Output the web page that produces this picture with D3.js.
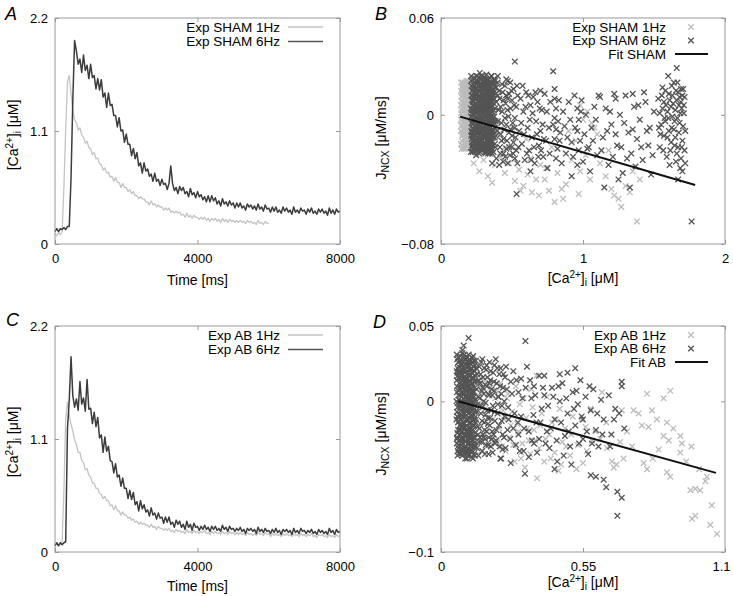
<!DOCTYPE html>
<html><head><meta charset="utf-8">
<script src="https://cdn.jsdelivr.net/npm/d3@7"></script>
<style>
body{margin:0;background:#fff;}
svg text{font-family:"Liberation Sans",Arial,Helvetica,sans-serif;}
</style></head>
<body><svg id="c" width="733" height="596"></svg>
<script>
// ---------------- DATA ----------------
// Ca2+ transients, one value every timeStepMs, in uM
const timeStepMs = 50;
const traceSham1Hz = [
0.10,0.08,0.11,0.09,0.12,0.55,1.12,1.58,1.64,1.46,
1.30,1.21,1.18,1.11,1.13,1.06,1.04,0.98,1.00,0.94,
0.93,0.87,0.89,0.83,0.84,0.78,0.77,0.72,0.74,0.69,
0.70,0.65,0.66,0.61,0.65,0.60,0.60,0.55,0.59,0.55,
0.55,0.51,0.53,0.49,0.51,0.47,0.47,0.44,0.46,0.44,
0.44,0.41,0.41,0.38,0.42,0.38,0.39,0.36,0.38,0.36,
0.36,0.33,0.35,0.33,0.35,0.31,0.32,0.30,0.32,0.30,
0.31,0.28,0.29,0.26,0.30,0.26,0.28,0.25,0.28,0.26,
0.26,0.24,0.26,0.24,0.26,0.23,0.25,0.22,0.25,0.23,
0.25,0.22,0.24,0.21,0.25,0.22,0.24,0.21,0.24,0.22,
0.23,0.21,0.23,0.21,0.23,0.21,0.22,0.20,0.23,0.21,
0.22,0.20,0.21,0.19,0.23,0.20,0.21,0.19,0.22,0.20,
0.20];
const traceSham6Hz = [
0.12,0.15,0.12,0.15,0.14,0.16,0.14,0.17,0.17,0.64,
1.40,1.98,1.88,1.75,1.80,1.67,1.84,1.69,1.74,1.61,
1.75,1.62,1.64,1.51,1.61,1.50,1.60,1.43,1.47,1.33,
1.47,1.35,1.36,1.25,1.25,1.14,1.23,1.10,1.11,0.99,
1.07,0.97,0.97,0.86,0.93,0.83,0.89,0.76,0.79,0.69,
0.79,0.71,0.73,0.66,0.68,0.61,0.69,0.61,0.63,0.57,
0.63,0.58,0.59,0.53,0.59,0.76,0.59,0.52,0.55,0.49,
0.56,0.52,0.55,0.49,0.51,0.46,0.54,0.48,0.50,0.45,
0.51,0.46,0.48,0.43,0.46,0.41,0.47,0.41,0.47,0.42,
0.45,0.39,0.42,0.37,0.44,0.39,0.41,0.37,0.42,0.38,
0.40,0.35,0.40,0.36,0.40,0.35,0.37,0.33,0.39,0.36,
0.38,0.34,0.37,0.33,0.39,0.34,0.36,0.32,0.38,0.34,
0.35,0.31,0.36,0.32,0.36,0.31,0.33,0.30,0.36,0.32,
0.35,0.31,0.33,0.29,0.36,0.31,0.33,0.30,0.35,0.32,
0.33,0.29,0.34,0.31,0.35,0.30,0.32,0.29,0.34,0.31,
0.34,0.30,0.32,0.28,0.35,0.30,0.33,0.29,0.34,0.31,
0.32];
const traceAB1Hz = [
0.07,0.09,0.07,0.09,0.10,0.60,1.30,1.46,1.33,1.24,
1.18,1.09,1.05,0.97,0.97,0.89,0.87,0.80,0.81,0.75,
0.73,0.67,0.67,0.62,0.62,0.57,0.56,0.52,0.54,0.50,
0.50,0.45,0.46,0.41,0.45,0.40,0.40,0.36,0.39,0.36,
0.36,0.33,0.34,0.31,0.32,0.29,0.30,0.27,0.29,0.27,
0.28,0.26,0.26,0.24,0.27,0.24,0.25,0.22,0.25,0.23,
0.23,0.21,0.23,0.21,0.23,0.20,0.21,0.19,0.22,0.20,
0.21,0.19,0.20,0.18,0.22,0.19,0.20,0.18,0.21,0.19,
0.20,0.18,0.20,0.19,0.21,0.18,0.19,0.17,0.20,0.18,
0.20,0.18,0.19,0.17,0.20,0.18,0.19,0.17,0.20,0.18,
0.19,0.17,0.19,0.17,0.19,0.17,0.18,0.16,0.19,0.17,
0.18,0.16,0.18,0.16,0.19,0.17,0.18,0.16,0.19,0.17,
0.18,0.15,0.18,0.16,0.18,0.16,0.17,0.15,0.18,0.16,
0.18,0.16,0.17,0.15,0.18,0.16,0.17,0.15,0.18,0.16,
0.17,0.15,0.17,0.16,0.18,0.15,0.16,0.14,0.17,0.16,
0.17,0.15,0.16,0.14,0.17,0.15,0.16,0.14,0.17,0.15,
0.16];
const traceAB6Hz = [
0.06,0.09,0.06,0.09,0.07,0.09,0.10,1.20,1.48,1.90,
1.52,1.41,1.49,1.38,1.66,1.44,1.50,1.37,1.68,1.39,
1.40,1.25,1.36,1.22,1.31,1.11,1.14,0.97,1.12,0.98,
1.03,0.89,0.88,0.77,0.86,0.73,0.75,0.64,0.72,0.62,
0.62,0.52,0.60,0.51,0.58,0.46,0.49,0.40,0.50,0.42,
0.46,0.39,0.41,0.35,0.43,0.36,0.38,0.32,0.38,0.33,
0.34,0.28,0.34,0.29,0.34,0.27,0.29,0.24,0.31,0.27,
0.30,0.24,0.27,0.22,0.30,0.24,0.27,0.21,0.28,0.24,
0.25,0.21,0.25,0.22,0.26,0.22,0.24,0.20,0.25,0.22,
0.25,0.21,0.23,0.20,0.26,0.22,0.24,0.20,0.25,0.22,
0.23,0.20,0.23,0.21,0.24,0.20,0.22,0.18,0.23,0.21,
0.23,0.20,0.22,0.18,0.24,0.20,0.22,0.19,0.23,0.20,
0.21,0.18,0.22,0.19,0.23,0.19,0.21,0.17,0.22,0.20,
0.22,0.19,0.21,0.17,0.23,0.19,0.21,0.18,0.23,0.20,
0.21,0.18,0.21,0.19,0.22,0.18,0.20,0.17,0.22,0.19,
0.21,0.18,0.20,0.17,0.23,0.19,0.21,0.17,0.22,0.19,
0.20];

// J_NCX vs [Ca2+]i scatter: [Ca (nM), J_NCX (nM/ms)]
const scatterSham1Hz = [
[140,15],[150,-4],[160,10],[170,-12],[180,6],[190,-18],[200,2],[150,18],[160,-15],[170,4],
[180,-8],[190,13],[200,-2],[140,-10],[150,8],[160,-1],[170,16],[180,-19],[190,1],[200,11],
[145,3],[155,-9],[165,14],[175,-6],[185,9],[195,-13],[205,5],[145,-16],[155,12],[165,-4],
[175,7],[185,-15],[195,17],[205,-7],[150,0],[160,19],[170,-17],[180,12],[190,-4],[200,-14],
[140,6],[150,-13],[160,4],[170,10],[180,-2],[190,7],[200,15],[210,-10],[210,4],[145,11],
[155,16],[165,-11],[175,1],[185,-11],[195,10],[205,-17],[140,-3],[170,20],[190,-9],[160,-7],
[160,-21],[180,21],[150,-19],[200,19],[143,-7],[148,14],[153,-12],[158,7],[163,-18],[168,-2],
[173,13],[178,-14],[183,3],[188,19],[193,-6],[198,9],[203,-20],[208,13],[142,20],[152,4],
[141,-18],[144,9],[147,-6],[149,17],[151,-11],[154,2],[156,-20],[159,13],[161,-5],[164,8],
[166,-14],[169,18],[171,-2],[174,-19],[176,11],[179,-9],[181,16],[184,-4],[186,-17],[189,5],
[191,21],[194,-10],[196,-1],[199,14],[201,-7],[204,20],[206,-12],[209,8],[142,1],[146,-21],
[152,20],[157,-2],[162,-9],[167,7],[172,-21],[177,17],[182,-13],[187,-1],[192,15],[197,-16],
[250,-24],[300,-28],[340,-22],[380,-31],[420,-26],[450,-36],[480,-30],[520,-41],[550,-34],[580,-44],
[610,-37],[640,-48],[670,-40],[700,-31],[730,-40],[760,-47],[800,-54],[820,-36],[850,-46],[880,-43],
[920,-28],[950,-16],[980,-35],[1020,-25],[1050,-40],[1080,-8],[1120,-30],[1160,-38],[1200,-46],[1220,-50],
[1250,-52],[1270,-57],[1300,-44],[1330,-48],[1380,-66],[1350,-35],[1100,-12],[900,-10],[780,-20],[600,-15],
[500,-8],[400,-12],[1400,-40],[860,-52],[630,-27],[330,-38],[720,-6],[1180,-22],[970,-49],[450,-20],
[1000,-3],[1030,2],[980,6],[1060,-5],[230,-30],[270,-35],[360,-42],[560,-47],[690,-50],[740,-33]];
const scatterSham6Hz = [
[213,21],[219,12],[211,4],[222,-6],[216,-15],[224,17],[212,-1],[220,-19],[226,8],[214,-10],
[233,18],[228,9],[237,-2],[231,-12],[226,-21],[236,23],[229,3],[238,-7],[232,14],[227,-16],
[248,24],[242,13],[251,1],[244,-9],[240,-18],[249,6],[243,-4],[252,19],[246,-13],[241,10],
[262,20],[257,8],[266,-3],[259,-14],[255,-22],[264,15],[258,2],[267,-8],[261,11],[256,-19],
[277,22],[271,11],[280,0],[274,-11],[270,-17],[279,5],[272,-6],[281,16],[276,-20],[273,26],
[292,19],[286,7],[295,-4],[289,-13],[284,-21],[294,14],[287,1],[296,-9],[291,24],[285,-16],
[307,23],[301,10],[310,-1],[303,-10],[299,-19],[309,16],[302,4],[311,-6],[305,-15],[300,12],
[322,21],[316,8],[325,-5],[318,-14],[314,-23],[324,13],[317,0],[326,-9],[320,25],[315,-18],
[337,18],[331,6],[340,-2],[333,-12],[329,-20],[339,11],[332,3],[341,-7],[335,22],[330,-16],
[352,20],[346,9],[355,-4],[348,-15],[344,-24],[354,14],[347,1],[356,-10],[350,17],[345,-19],
[367,16],[361,5],[370,-6],[363,-13],[359,-21],[369,12],[362,-1],[371,22],[365,-9],[360,-17],
[218,1],[235,-10],[250,16],[265,-11],[283,3],[298,-2],[313,18],[328,-3],[343,5],[358,-11],
[221,15],[239,20],[254,-16],[269,18],[288,-18],[304,20],[319,-12],[334,15],[349,-21],[364,9],
[225,-13],[247,3],[263,5],[278,-14],[293,10],[308,-21],[323,6],[338,-18],[353,4],[368,19],
[215,-5],[217,9],[223,-17],[230,6],[234,-4],[238,12],[245,-20],[247,21],[253,-7],[256,4],
[260,-2],[265,23],[268,-17],[273,-3],[275,8],[282,-9],[285,13],[290,-6],[293,-16],[297,7],
[300,21],[304,-13],[306,2],[312,-11],[315,14],[319,-6],[321,3],[327,-15],[329,19],[333,-9],
[336,8],[342,-14],[344,15],[348,-5],[351,11],[357,-16],[359,2],[362,20],[366,-4],[372,7],
[214,18],[223,-23],[228,-9],[232,0],[240,2],[244,16],[250,-11],[258,-20],[262,-6],[270,14],
[275,-23],[280,19],[287,-11],[291,5],[296,-21],[302,17],[308,9],[313,-4],[318,22],[323,-20],
[328,11],[332,-24],[338,0],[343,-22],[347,12],[352,-8],[357,24],[361,-24],[366,13],[370,-14],
[375,10],[378,-8],[380,17],[383,-20],[376,-1],[382,4],[385,-13],[379,22],[386,13],[384,-4],
[212,24],[210,-23],[214,-13],[217,3],[219,-20],[221,22],[225,0],[222,-8],[228,-19],[230,16],[232,-5],[234,11],
[236,-16],[238,2],[240,20],[242,-23],[244,7],[246,-2],[248,-25],[250,10],[252,-10],[254,13],[256,-3],[258,21],
[260,-17],[262,4],[264,-10],[266,9],[268,-24],[270,1],[272,19],[274,-15],[276,12],[278,-7],[280,24],[282,-19],
[284,10],[286,-2],[288,17],[290,-22],[292,-8],[294,4],[296,21],[298,-12],[300,-5],[302,23],[304,-17],[306,13],
[308,-9],[310,7],[312,-24],[314,19],[316,-2],[318,4],[320,-11],[322,16],[324,-21],[326,10],[328,-6],[330,22],
[332,-14],[334,1],[336,-23],[338,13],[340,6],[342,-10],[344,20],[346,-1],[348,-20],[350,8],[352,-13],[354,24],
[356,-6],[358,15],[360,-3],[362,-19],[364,2],[366,21],[368,-10],[370,-23],[372,14],[374,-5],[376,18],[378,-14],
[215,12],[218,-11],[223,6],[227,-3],[231,19],[235,14],[239,-13],[243,-20],[247,10],[251,-16],[255,24],[259,-6],
[263,-21],[267,3],[271,-4],[275,17],[279,-12],[283,-22],[287,6],[291,14],[295,-18],[299,1],[303,-14],[307,22],
[311,-19],[315,5],[319,11],[323,-5],[327,21],[331,-18],[335,-7],[339,17],[343,-3],[347,-16],[351,-23],[355,8],
[380,21],[390,8],[400,-4],[380,-18],[410,15],[420,-12],[400,24],[430,2],[440,-24],[390,-27],
[450,18],[460,-6],[470,10],[440,-15],[480,-20],[460,22],[490,4],[500,-13],[470,-30],[510,16],
[520,-2],[530,-22],[500,9],[540,12],[550,-10],[420,5],[370,3],[410,-31],[450,-2],[480,13],
[520,-27],[430,19],[360,-30],[490,-9],[530,5],[400,12],[440,9],[460,-21],[390,17],[510,-17],
[520,33],[532,-49],[470,21],
[395,-10],[405,3],[415,-20],[425,-5],[435,14],[445,-9],[455,7],[465,-16],[475,-1],[485,-25],
[495,15],[505,-5],[515,6],[525,-14],[535,18],[545,-20],[398,20],[418,-24],[438,-29],[458,12],
[478,-11],[498,-20],[518,-8],[538,-30],[412,10],[426,-16],[452,-26],[468,3],[488,20],[508,-24],
[560,10],[570,-18],[580,2],[590,-28],[600,14],[610,-8],[620,-22],[630,6],[640,-14],[650,11],
[660,-30],[670,-4],[680,8],[690,-19],[700,-10],[710,3],[720,-26],[730,13],[740,-16],[750,-33],
[790,27],[800,16],[800,10],[810,4],[800,-2],[810,-9],[800,-15],[820,-21],[810,-27],[790,-6],
[840,-11],[860,2],[880,-24],[900,8],[920,-17],[940,12],[960,4],[970,-3],[960,-10],[980,-16],
[970,-22],[990,9],[1000,-29],[1020,0],[1040,-20],[1060,-8],[1080,5],[1100,-25],[1120,11],[1140,-14],
[1160,4],[1180,-31],[1200,-6],[1220,13],[1240,-19],[1260,0],[1280,-36],[1300,12],[1320,-11],[1340,-24],
[1360,5],[1380,-15],[1400,-3],[1420,-28],[1440,8],[1460,-19],[1480,-37],[1500,2],[1470,-8],[1430,14],
[1110,12],[1250,-40],[1050,-35],[850,-30],[770,8],[700,15],[630,-35],[1330,-45],[1150,-45],[920,-38],
[565,-5],[575,18],[585,-12],[595,5],[605,-24],[615,12],[625,-3],[635,-28],[645,1],[655,-20],
[665,14],[675,-12],[685,-26],[695,4],[705,-22],[715,-6],[725,-15],[745,2],[760,-8],[765,-24],
[825,-4],[830,9],[835,-16],[870,-7],[890,-14],[910,-3],[930,-26],[945,-8],[985,2],[1010,-12],
[1030,-21],[1070,-16],[1090,-3],[1130,-22],[1170,-10],[1190,2],[1210,-26],[1230,-12],[1270,-20],[1290,-5],
[1310,-27],[1350,-9],[1370,-32],[1390,6],[1410,-20],[1450,-10],[1490,-25],[1230,10],[1350,13],[960,-31],
[1530,10],[1550,-6],[1540,-20],[1560,4],[1570,-13],[1580,15],[1590,-26],[1600,-2],[1610,9],[1620,-17],
[1630,12],[1640,-9],[1650,3],[1660,-24],[1670,14],[1680,-5],[1690,8],[1700,-16],[1710,1],[1720,-30],
[1660,29],[1600,24],[1640,20],[1560,17],[1680,11],[1620,5],[1700,12],[1650,-14],[1580,-4],[1670,-20],
[1690,-27],[1610,-31],[1710,6],[1630,-1],[1660,9],[1540,1],[1720,-10],[1690,16],[1570,8],[1700,-35],
[1765,-66],[1670,-40],
[1545,-12],[1555,12],[1565,-22],[1575,-2],[1585,6],[1595,-14],[1605,13],[1615,-22],[1625,-8],[1635,7],
[1645,-19],[1655,15],[1665,-2],[1675,-11],[1685,1],[1695,-20],[1705,-7],[1715,11],[1655,-29],[1685,-33],
[1605,-10],[1625,18],[1645,-4],[1665,20],[1695,4],[1715,-22],[1535,-8],[1595,2],[1675,6],[1705,16]];
const scatterAB1Hz = [
[70,15],[80,-10],[90,5],[100,-20],[110,10],[120,-28],[130,0],[140,18],[150,-15],[160,6],
[75,-30],[85,20],[95,-5],[105,24],[115,-15],[125,13],[135,-24],[145,4],[155,-33],[165,14],
[70,-20],[90,25],[110,-35],[130,22],[150,10],[170,-5],[180,-20],[190,9],[200,-12],[210,2],
[220,-25],[230,12],[240,-6],[250,-33],[260,5],[270,-16],[280,-29],[290,10],[300,-20],[310,-38],
[310,-34],[320,2],[330,-11],[340,-26],[350,8],[360,-19],[370,17],[372,-51],[380,-31],[390,-8],
[400,-40],[410,3],[420,-22],[430,-14],[440,-34],[455,-46],[460,-5],[470,-27],[480,-18],[500,-36],
[510,-10],[530,-29],[550,-41],[560,-17],[580,-5],
[205,-27],[215,7],[225,-18],[235,-30],[245,-12],[255,2],[265,-24],[275,-7],[285,-40],[295,-15],
[305,-2],[315,-28],[325,-44],[335,-18],[345,-35],[355,-4],[365,-26],[385,-16],[405,-25],[425,-38],
[445,-12],[465,-42],[485,-30],[505,-22],[525,-45],[545,-12],[565,-33],[585,-26],[640,-14],[700,-6],
[598,-20],[617,-25],[623,6],[643,-31],[662,-40],[669,-44],[680,-42],[694,-27],[707,-38],[720,-20],
[746,-6],[765,-8],[778,-16],[785,-41],[798,5],[798,-45],[804,-17],[817,-6],[836,-12],[843,-32],
[862,2],[862,-23],[875,-14],[875,-47],[882,-26],[888,7],[888,-50],[927,-34],[927,-23],[933,-28],
[966,-59],[972,-78],[985,-58],[985,-76],[1004,-59],[1024,-53],[1030,-50],[1043,-82],[1049,-69],[1069,-88],
[740,-30],[820,-38],[950,-40],[1000,-45],[900,-18],[970,-30]];
const scatterAB6Hz = [
[63,28],[69,23],[65,17],[71,12],[62,6],[68,1],[64,-4],[70,-9],[66,-14],[72,-19],[63,-24],[69,-29],[65,-33],[71,9],
[75,30],[81,25],[77,19],[83,14],[74,8],[80,3],[76,-2],[82,-7],[78,-12],[84,-17],[75,-22],[81,-27],[77,-32],[83,-36],
[87,27],[93,21],[89,16],[95,10],[86,5],[92,0],[88,-5],[94,-10],[90,-15],[96,-20],[87,-25],[93,-30],[89,-35],[95,13],
[99,29],[105,24],[101,18],[107,13],[98,7],[104,2],[100,-3],[106,-8],[102,-13],[108,-18],[99,-23],[105,-28],[101,-34],[107,31],
[111,28],[117,22],[113,17],[119,11],[110,6],[116,1],[112,-4],[118,-9],[114,-14],[120,-19],[111,-24],[117,-29],[113,-33],[119,-37],
[123,26],[129,20],[125,15],[131,9],[122,4],[128,-1],[124,-6],[130,-11],[126,-16],[132,-21],[123,-26],[129,-31],[125,30],[131,-36],
[66,26],[72,20],[61,14],[67,4],[73,-1],[62,-7],[68,-11],[74,-16],[63,-21],[69,-26],
[78,27],[84,21],[73,15],[79,11],[85,6],[74,-4],[80,-9],[86,-14],[75,-19],[81,-25],
[90,29],[96,24],[85,18],[91,8],[97,3],[86,-2],[92,-8],[98,-12],[87,-18],[93,-23],
[102,26],[108,21],[97,15],[103,10],[109,4],[98,-1],[104,-6],[110,-11],[99,-16],[105,-31],
[114,25],[120,19],[109,14],[115,8],[121,3],[110,-2],[116,-7],[122,-12],[111,-17],[117,-22],
[126,23],[132,17],[121,12],[127,6],[133,1],[122,-4],[128,-9],[134,-14],[123,-19],[129,-24],
[64,-36],[77,-35],[91,-31],[104,-36],[118,-32],[130,-29],[70,19],[82,32],[96,-27],[108,-26],
[60,0],[60,-12],[61,20],[62,-25],[88,11],[100,12],[112,-28],[124,7],[95,-33],[76,-15],
[61,31],[67,29],[73,27],[79,24],[85,22],[91,31],[97,28],[103,26],[109,23],[115,21],[121,29],[127,27],[131,24],
[64,19],[70,16],[76,13],[82,18],[88,15],[94,12],[100,20],[106,17],[112,14],[118,19],[124,16],[130,13],
[62,10],[68,7],[74,4],[80,9],[86,6],[92,3],[98,10],[104,7],[110,4],[116,9],[122,6],[128,3],[132,-3],
[65,-1],[71,-3],[77,-6],[83,0],[89,-3],[95,-6],[101,1],[107,-2],[113,-5],[119,-1],[125,-4],[131,-7],
[63,-10],[69,-13],[75,-16],[81,-11],[87,-14],[93,-17],[99,-9],[105,-12],[111,-15],[117,-10],[123,-13],[129,-16],
[66,-19],[72,-22],[78,-25],[84,-20],[90,-23],[96,-26],[102,-19],[108,-22],[114,-25],[120,-21],[126,-24],[132,-27],
[61,-28],[67,-31],[73,-34],[79,-29],[85,-32],[91,-35],[97,-30],[103,-33],[109,-36],[115,-30],[121,-33],[127,-35],
[64,22],[76,25],[88,20],[100,-38],[112,27],[124,-38],[70,-35],[94,-38],[82,-1],[106,-20],[118,0],[130,20],
[107,42],[88,37],[83,34],
[135,27],[140,18],[138,8],[142,-2],[136,-12],[144,-22],[139,-31],[148,23],[152,12],[150,2],
[155,-8],[149,-18],[157,-27],[160,28],[163,16],[166,5],[161,-4],[168,-14],[164,-24],[170,-35],
[175,21],[178,10],[173,-1],[181,-11],[176,-20],[184,-29],[188,26],[191,14],[186,4],[194,-6],
[189,-16],[197,-25],[184,-35],[202,19],[206,7],[201,-3],[209,-13],[204,-22],[212,28],[216,12],
[219,-8],[214,-19],[223,3],[227,-30],[231,22],[235,-13],[233,-38],[240,9],[244,-24],[248,16],
[137,22],[141,13],[145,3],[139,-7],[143,-17],[147,-27],[153,18],[158,7],[154,-3],[159,-13],
[162,-22],[167,22],[171,11],[165,0],[172,-9],[169,-19],[174,-29],[180,16],[183,5],[179,-6],
[185,-24],[192,20],[196,8],[190,-11],[198,-20],[205,13],[208,-7],[210,-28],[218,22],[221,3],
[225,-16],[229,10],[236,-3],[239,-22],[242,18],[246,-10],[250,-31],[200,-34],[160,-33],[145,-36],
[133,-30],[146,14],[151,-24],[156,26],[162,9],[171,-25],[177,24],[182,-15],[187,12],[193,-30],
[199,4],[207,24],[213,-26],[220,-2],[226,18],[234,5],[238,-32],[245,0],[252,23],[258,-19],
[260,-4],[270,13],[280,-18],[280,20],[290,-29],[300,6],[310,15],[310,-10],[320,-33],[327,40],
[333,23],[340,-20],[340,-37],[350,2],[360,10],[370,-14],[380,-25],[380,17],[390,-5],[400,4],
[400,17],[410,-20],[420,-31],[430,9],[440,-12],[450,-40],[460,0],[470,12],[480,-23],[490,19],
[490,-8],[500,-30],[510,6],[520,-16],[530,-2],[540,14],[550,-25],[550,-12],[560,3],[570,-35],
[580,-6],[590,8],[600,-19],[610,-30],[620,1],[630,-12],[640,-57],[650,4],[660,-22],[683,-60],
[683,-76],[700,-64],[700,13],[700,10],[690,-8],[710,-18],[670,-12],[600,-50],[630,-52],[580,-49],
[325,-48],[270,-41],[230,-38],[440,-45],[360,-28],[520,22],[300,-22],[460,18],
[255,8],[262,-12],[268,-25],[275,5],[285,-8],[292,14],[298,-14],[305,-33],[315,2],[322,-18],
[328,9],[345,14],[352,-26],[358,-9],[365,4],[372,-34],[385,-14],[395,9],[405,-28],[415,-3],
[425,-18],[435,3],[448,-26],[455,10],[465,-14],[475,-36],[485,2],[495,-20],[505,-42],[515,-5],
[525,7],[535,-28],[545,-10],[565,-20],[575,10],[585,-28],[605,-8],[625,-22],[655,-30],[675,-5]];
// fitted lines, [Ca (uM), J (uM/ms)] end points
const fitSham = [[0.134,-0.0011],[1.79,-0.0434]];
const fitAB = [[0.067,0.0],[1.065,-0.0475]];

const ticksTime = [0,4000,8000];
const ticksCaTrace = [0,1.1,2.2];
const ticksCaSham = [0,1,2];
const ticksJSham = [-0.08,0,0.06];
const ticksCaAB = [0,0.55,1.1];
const ticksJAB = [-0.1,0,0.05];
const legendSham = ["Exp SHAM 1Hz","Exp SHAM 6Hz","Fit SHAM"];
const legendAB = ["Exp AB 1Hz","Exp AB 6Hz","Fit AB"];

// ---------------- DRAW ----------------
const svg = d3.select("#c");
const LIGHT = "#c4c4c4", DARK = "#3c3c3c", LIGHTPT="#bcbcbc", DARKPT="#545454", FRAME="#9a9a9a";
const fmt = v => (v<0 ? "\u2212"+String(Math.abs(v)) : String(v));

function frame(g, x, y, xt, yt){
  const [x0,x1]=x.range(), [y1,y0]=y.range();
  g.append("rect").attr("x",x0).attr("y",y0).attr("width",x1-x0).attr("height",y1-y0)
    .attr("fill","none").attr("stroke",FRAME).attr("stroke-width",1);
  const style = a => { a.select(".domain").remove(); a.selectAll(".tick line").attr("stroke",FRAME);
    a.selectAll("text").attr("fill","#000").style("font-size","13px").style("font-family","Liberation Sans, Arial, sans-serif"); };
  const bx = g.append("g").attr("transform",`translate(0,${y1})`).call(d3.axisBottom(x).tickValues(xt).tickSize(-4).tickPadding(10).tickFormat(fmt)).call(style);
  g.append("g").attr("transform",`translate(0,${y0})`).call(d3.axisTop(x).tickValues(xt).tickSize(-4).tickFormat("")).call(style);
  g.append("g").attr("transform",`translate(${x0},0)`).call(d3.axisLeft(y).tickValues(yt).tickSize(-4).tickPadding(7).tickFormat(fmt)).call(style);
  g.append("g").attr("transform",`translate(${x1},0)`).call(d3.axisRight(y).tickValues(yt).tickSize(-4).tickFormat("")).call(style);
  return bx;
}
function cross(sel, color){
  sel.append("path").attr("d","M-2.8,-2.8L2.8,2.8M-2.8,2.8L2.8,-2.8")
    .attr("stroke",color).attr("stroke-width",1.3).attr("fill","none");
}
function panelLetter(t,x,y){
  svg.append("text").attr("x",x).attr("y",y).text(t).style("font-size","18px").style("font-style","italic");
}
function caText(t){
  t.append("tspan").text("[Ca");
  t.append("tspan").text("2+").attr("dy",-5).style("font-size","10px");
  t.append("tspan").text("]").attr("dy",5);
  t.append("tspan").text("i").attr("dy",3).style("font-size","10px");
  t.append("tspan").text(" [\u03bcM]").attr("dy",-3);
}
function caLabelY(x,y){
  caText(svg.append("text").attr("transform",`translate(${x},${y}) rotate(-90)`).attr("text-anchor","middle").style("font-size","14px"));
}
function caLabelX(x,y){
  caText(svg.append("text").attr("x",x).attr("y",y).attr("text-anchor","middle").style("font-size","14px"));
}
function jLabelY(x,y){
  const t=svg.append("text").attr("transform",`translate(${x},${y}) rotate(-90)`).attr("text-anchor","middle").style("font-size","14px");
  t.append("tspan").text("J");
  t.append("tspan").text("NCX").attr("dy",3).style("font-size","10.5px");
  t.append("tspan").text(" [\u03bcM/ms]").attr("dy",-3);
}

function tracePanel(box, s1, s2, labels, ylabY, xlabY){
  const x=d3.scaleLinear().domain([0,8000]).range([box.x0,box.x1]);
  const y=d3.scaleLinear().domain([0,2.2]).range([box.y1,box.y0]);
  const g=svg.append("g");
  const line=d3.line().x((d,i)=>x(i*timeStepMs)).y(d=>y(d));
  g.append("path").datum(s1).attr("d",line).attr("fill","none").attr("stroke",LIGHT).attr("stroke-width",1.3).attr("stroke-linejoin","round");
  g.append("path").datum(s2).attr("d",line).attr("fill","none").attr("stroke",DARK).attr("stroke-width",1.5).attr("stroke-linejoin","round");
  frame(g,x,y,ticksTime,ticksCaTrace);
  [[labels[0],LIGHT],[labels[1],"#555"]].forEach((l,i)=>{
    const yy=box.y0+9+i*14.5;
    svg.append("text").attr("x",box.x0+225).attr("y",yy).attr("dy","0.35em").attr("text-anchor","end").text(l[0]).style("font-size","13.5px");
    svg.append("line").attr("x1",box.x0+233).attr("x2",box.x0+268).attr("y1",yy).attr("y2",yy).attr("stroke",l[1]).attr("stroke-width",1.5);
  });
  svg.append("text").attr("x",(box.x0+box.x1)/2).attr("y",xlabY).attr("text-anchor","middle").text("Time [ms]").style("font-size","14px");
  caLabelY(18, ylabY);
}

function scatterPanel(box, xdom, ydom, xt, yt, p1, p2, fit, labels, ylabY, xlabY){
  const x=d3.scaleLinear().domain(xdom).range([box.x0,box.x1]);
  const y=d3.scaleLinear().domain(ydom).range([box.y1,box.y0]);
  const g=svg.append("g");
  const pos = d=>`translate(${x(d[0]/1000)},${y(d[1]/1000)})`;
  g.append("g").selectAll("g").data(p1).join("g").attr("transform",pos).call(cross,LIGHTPT);
  g.append("g").selectAll("g").data(p2).join("g").attr("transform",pos).call(cross,DARKPT);
  g.append("path").datum(fit).attr("d",d3.line().x(d=>x(d[0])).y(d=>y(d[1]))).attr("stroke","#111").attr("stroke-width",2).attr("fill","none");
  const bx = frame(g,x,y,xt,yt);
  bx.selectAll(".tick text").filter(d=>d===xt[xt.length-1] && xdom[1]===1.1).attr("dx",-4);
  labels.forEach((l,i)=>{
    const yy=box.y0+9+i*13.5;
    svg.append("text").attr("x",666).attr("y",yy).attr("dy","0.35em").attr("text-anchor","end").text(l).style("font-size","13.5px");
    if(i<2){ svg.append("g").attr("transform",`translate(691,${yy})`).call(cross, i===0?LIGHTPT:DARKPT); }
    else svg.append("line").attr("x1",675).attr("x2",708).attr("y1",yy).attr("y2",yy).attr("stroke","#111").attr("stroke-width",2);
  });
  caLabelX((box.x0+box.x1)/2, xlabY);
  jLabelY(386, ylabY);
}

const boxA={x0:55,x1:340,y0:18,y1:244};
const boxB={x0:441,x1:725,y0:18,y1:244};
const boxC={x0:55,x1:340,y0:326,y1:552};
const boxD={x0:441,x1:725,y0:326,y1:552};

tracePanel(boxA, traceSham1Hz, traceSham6Hz, ["Exp SHAM 1Hz","Exp SHAM 6Hz"], 135, 285);
tracePanel(boxC, traceAB1Hz, traceAB6Hz, ["Exp AB 1Hz","Exp AB 6Hz"], 442, 591);
scatterPanel(boxB,[0,2],[-0.08,0.06],ticksCaSham,ticksJSham,scatterSham1Hz,scatterSham6Hz,fitSham,legendSham,138,283);
scatterPanel(boxD,[0,1.1],[-0.1,0.05],ticksCaAB,ticksJAB,scatterAB1Hz,scatterAB6Hz,fitAB,legendAB,434,587);

panelLetter("A",5,20); panelLetter("B",375,20); panelLetter("C",6,326); panelLetter("D",373,328);
</script></body></html>
